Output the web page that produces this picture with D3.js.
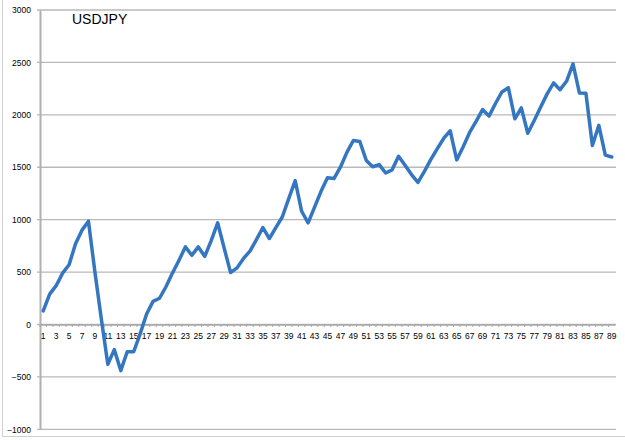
<!DOCTYPE html>
<html><head><meta charset="utf-8">
<script src="https://cdn.jsdelivr.net/npm/d3@7"></script>
<style>
html,body{margin:0;padding:0;background:#fff;}
svg{display:block;font-family:"Liberation Sans",Arial,sans-serif;}
</style></head>
<body>
<svg id="chart" width="625" height="440"></svg>
<script>
const title = "USDJPY";
const categories = d3.range(1, 90).map(String);
const values = [
  130, 290, 370, 490, 570, 770, 900, 985, 500, 50,
  -380, -240, -440, -260, -260, -90, 100, 220, 250, 360,
  490, 610, 740, 660, 740, 650, 800, 970, 730, 495,
  540, 630, 700, 810, 925, 820, 925, 1025, 1200, 1372,
  1080, 970, 1120, 1270, 1400, 1392, 1500, 1642, 1755, 1745,
  1565, 1505, 1525, 1445, 1475, 1605, 1518, 1430, 1355, 1460,
  1575, 1678, 1777, 1848, 1570, 1695, 1832, 1937, 2050, 1988,
  2108, 2218, 2258, 1962, 2066, 1824, 1946, 2074, 2200, 2304,
  2240, 2320, 2487, 2208, 2206, 1708, 1900, 1615, 1598
];
const yTicks = [-1000, -500, 0, 500, 1000, 1500, 2000, 2500, 3000];
const xLabels = categories.filter((d, i) => i % 2 === 0);

const svg = d3.select("#chart");
const mLeft = 40, mRight = 615, mTop = 10, mBottom = 429.3;

const x = d3.scaleBand().domain(categories).range([mLeft, mRight]);
const y = d3.scaleLinear().domain([-1000, 3000]).range([mBottom, mTop]);

// outer frame (left + bottom)
svg.append("path")
  .attr("d", `M2.5,0 V436.5 H625`)
  .attr("fill", "none").attr("stroke", "#d0d0d0").attr("stroke-width", 1);

// gridlines
svg.append("g").selectAll("line").data(yTicks).join("line")
  .attr("x1", mLeft - 3).attr("x2", mRight + 1)
  .attr("y1", d => y(d)).attr("y2", d => y(d))
  .attr("stroke", "#b9b9b9").attr("stroke-width", 1.3);

// y axis
const yAxis = svg.append("g").attr("transform", `translate(${mLeft},0)`)
  .call(d3.axisLeft(y).tickValues(yTicks).tickSize(0).tickPadding(9).tickFormat(d3.format("d")));
yAxis.select(".domain").attr("stroke", "#b0b0b0").attr("stroke-width", 2);
yAxis.selectAll("text").attr("font-size", 8.5).attr("fill", "#000")
  .attr("font-family", "'Liberation Sans', Arial, sans-serif");

// x axis at zero
const xAxis = svg.append("g").attr("transform", `translate(0,${y(0)})`)
  .call(d3.axisBottom(x).tickValues(xLabels).tickSize(0).tickPadding(8));
xAxis.select(".domain").attr("stroke", "#a8a8a8").attr("stroke-width", 1.3);
xAxis.selectAll("text").attr("font-size", 8.5).attr("fill", "#000")
  .attr("font-family", "'Liberation Sans', Arial, sans-serif");
// minor tick marks at category boundaries
svg.append("g").selectAll("line").data(categories).join("line")
  .attr("x1", d => x(d)).attr("x2", d => x(d))
  .attr("y1", y(0)).attr("y2", y(0) + 2.5)
  .attr("stroke", "#a8a8a8").attr("stroke-width", 1);

// data line
const line = d3.line()
  .x((d, i) => x(categories[i]) + x.bandwidth() / 2)
  .y(d => y(d));
svg.append("path").datum(values)
  .attr("d", line)
  .attr("fill", "none")
  .attr("stroke", "#3476c0")
  .attr("stroke-width", 3.5)
  .attr("stroke-linejoin", "round")
  .attr("stroke-linecap", "round");

// title
svg.append("text").attr("x", 72).attr("y", 24)
  .attr("font-size", 14).attr("fill", "#000")
  .attr("font-family", "'Liberation Sans', Arial, sans-serif")
  .text(title);
</script>
</body></html>
